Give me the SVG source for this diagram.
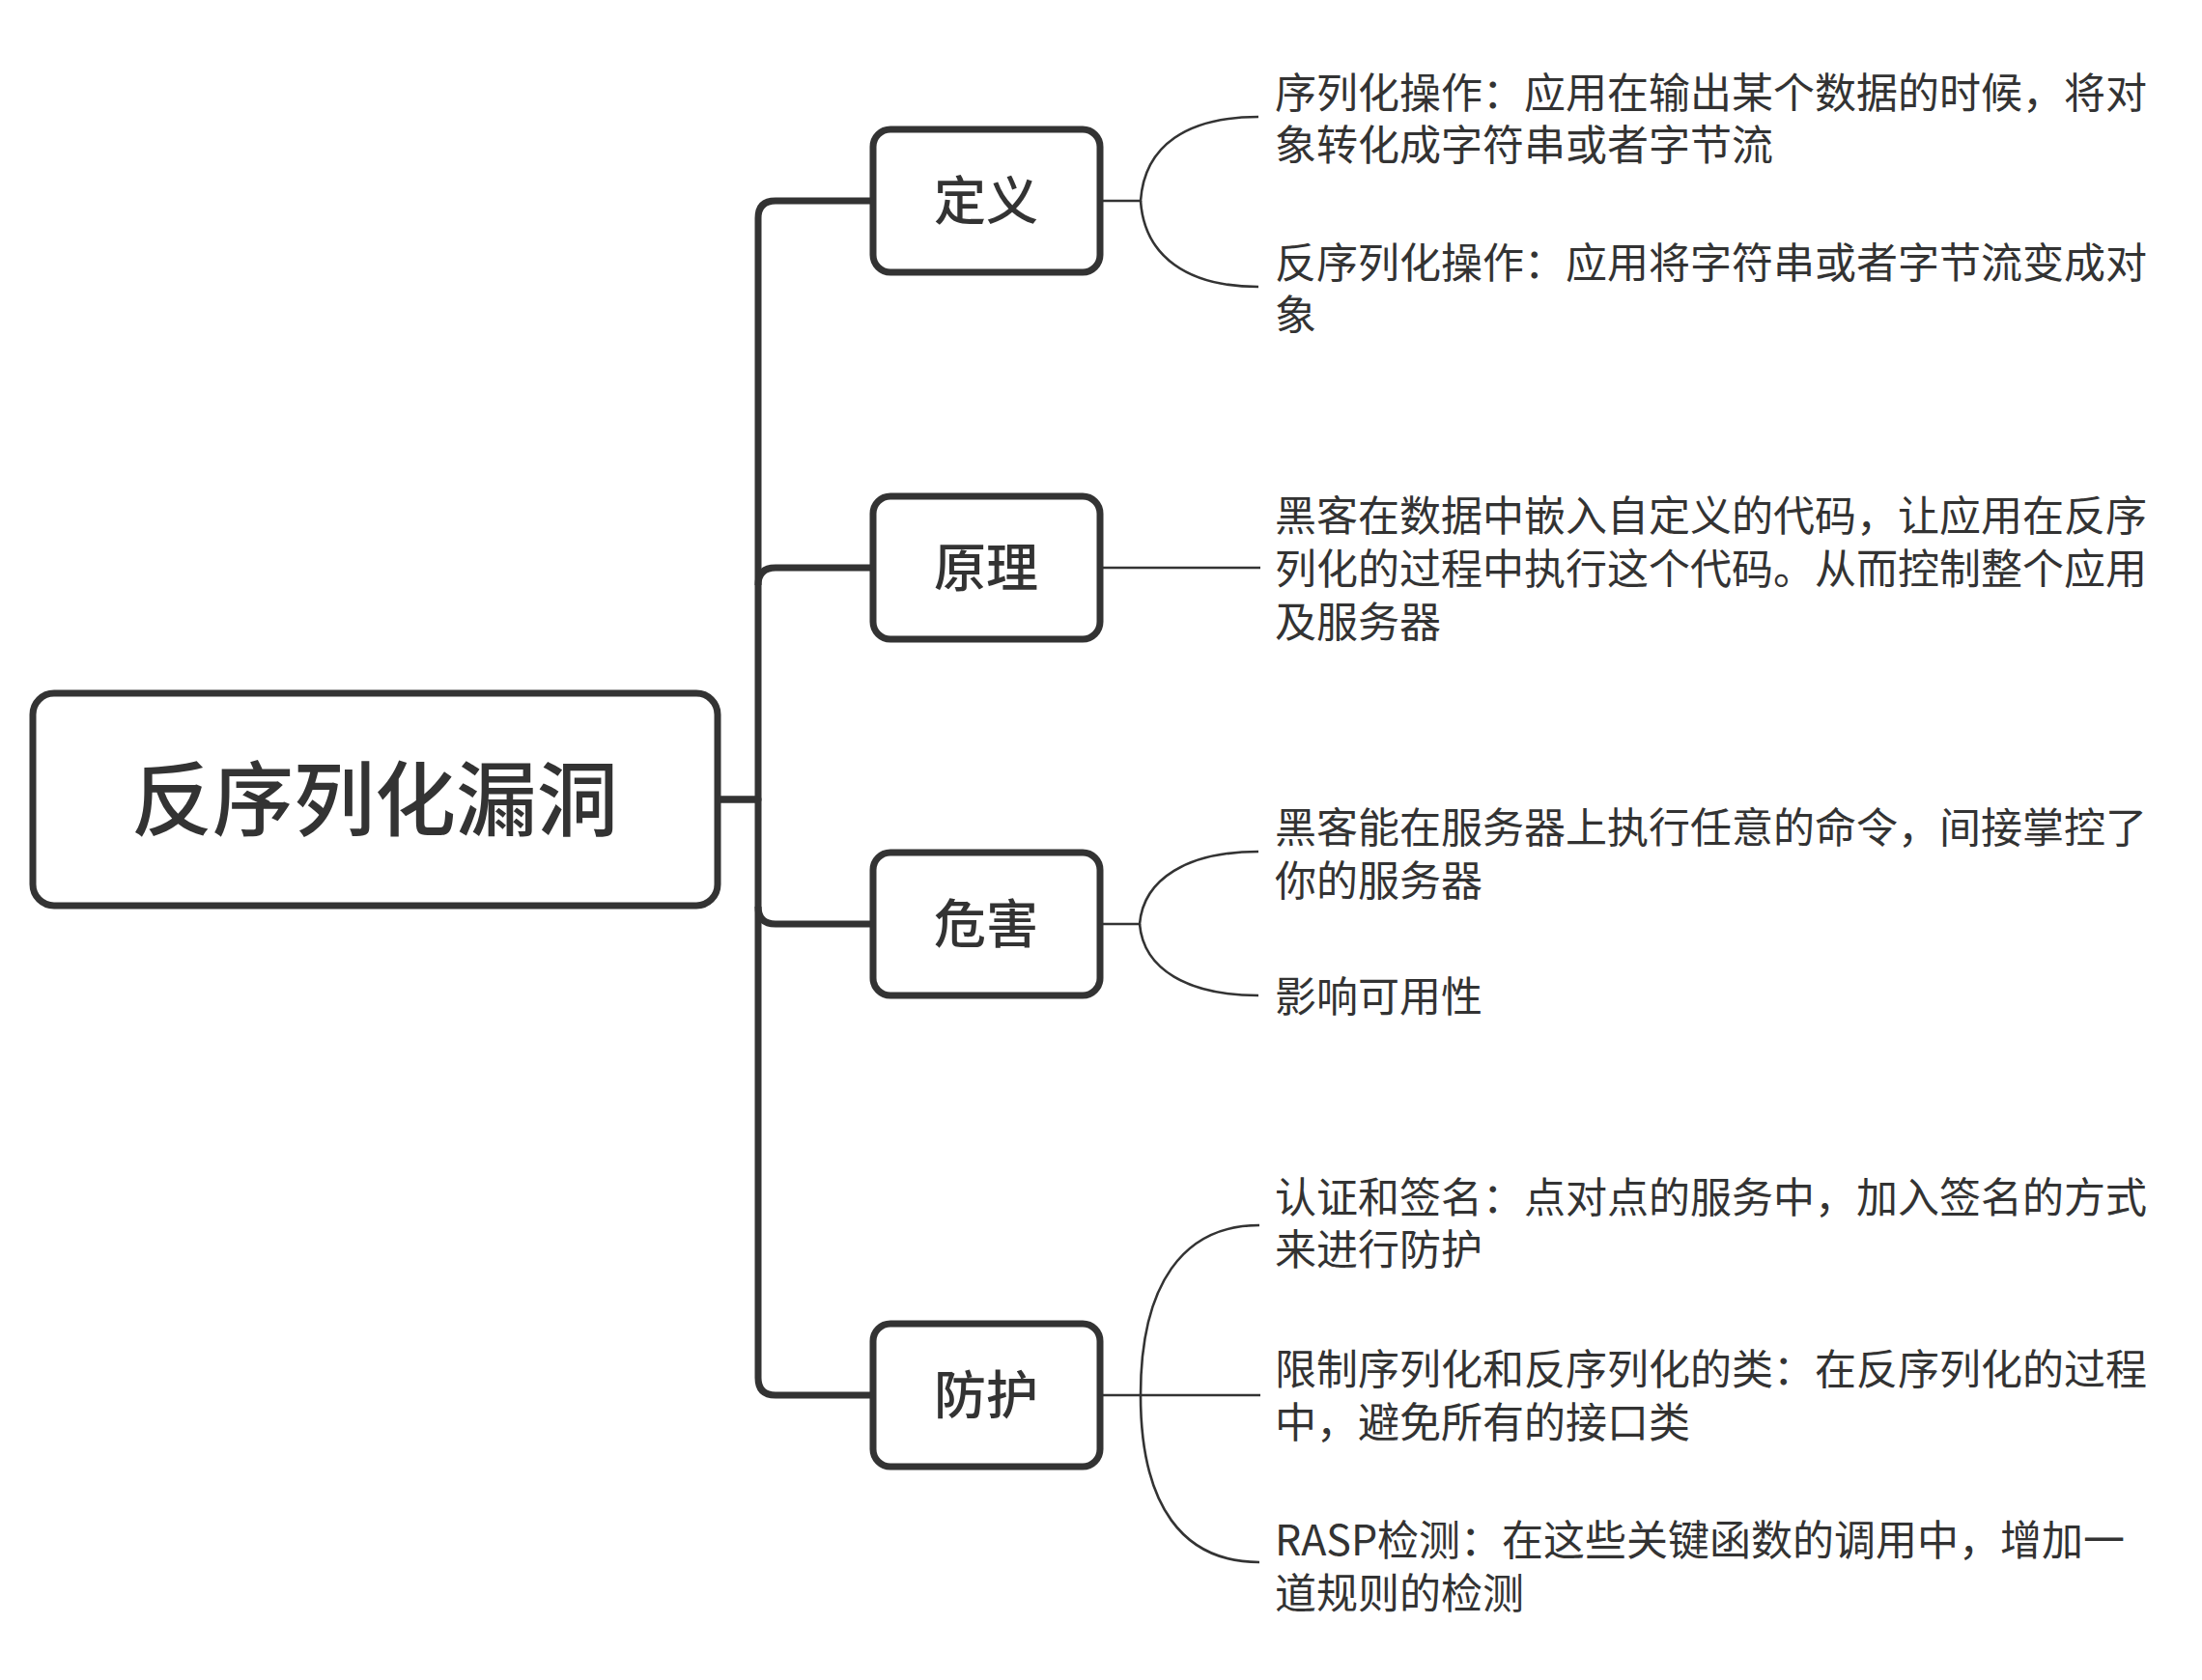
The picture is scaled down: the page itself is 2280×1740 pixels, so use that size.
<svg xmlns="http://www.w3.org/2000/svg" width="2280" height="1740" viewBox="0 0 2280 1740">
<style>
.box{fill:#fff;stroke:#333;stroke-width:7}
.trunk{fill:none;stroke:#333;stroke-width:7;stroke-linejoin:round}
.leaf{fill:none;stroke:#333;stroke-width:2.6}
text{font-family:"Noto Sans CJK SC","Noto Sans",sans-serif;fill:#333}
.root{font-size:84px;font-weight:500;text-anchor:middle}
.node{font-size:54px;font-weight:500;text-anchor:middle}
.lt{font-size:43px}
</style>
<rect width="2280" height="1740" fill="#fff"/>
<g id="connectors">
<path class="trunk" d="M745,828 H785 V226 Q785,208 803,208 H904"/>
<path class="trunk" d="M785,606 Q785,588 803,588 H904"/>
<path class="trunk" d="M745,828 H785 V1427 Q785,1445 803,1445 H904"/>
<path class="trunk" d="M785,939 Q785,957 803,957 H904"/>
<path class="leaf" d="M1139,208 H1181 C1185,150 1230,121 1303,121"/>
<path class="leaf" d="M1181,208 C1185,266 1230,297 1303,297"/>
<path class="leaf" d="M1139,588 H1305"/>
<path class="leaf" d="M1139,957 H1180 C1184,910 1230,882 1303,882"/>
<path class="leaf" d="M1180,957 C1184,1004 1230,1031 1303,1031"/>
<path class="leaf" d="M1139,1445 H1305"/>
<path class="leaf" d="M1181,1445 C1181,1330 1225,1269 1304,1269"/>
<path class="leaf" d="M1181,1445 C1181,1560 1225,1618 1304,1618"/>
</g>
<g id="root">
<rect class="box" x="34" y="718" width="709" height="220" rx="22"/>
<text class="root" x="388" y="859">反序列化漏洞</text>
</g>
<g id="n-dingyi">
<rect class="box" x="904" y="134" width="235" height="148" rx="18"/>
<text class="node" x="1021" y="228">定义</text>
</g>
<g id="n-yuanli">
<rect class="box" x="904" y="514" width="235" height="148" rx="18"/>
<text class="node" x="1021" y="608">原理</text>
</g>
<g id="n-weihai">
<rect class="box" x="904" y="883" width="235" height="148" rx="18"/>
<text class="node" x="1021" y="977">危害</text>
</g>
<g id="n-fanghu">
<rect class="box" x="904" y="1371" width="235" height="148" rx="18"/>
<text class="node" x="1021" y="1465">防护</text>
</g>
<g id="leaf-1">
<text class="lt" x="1320" y="112">序列化操作：应用在输出某个数据的时候，将对<tspan x="1320" dy="54">象转化成字符串或者字节流</tspan></text>
</g>
<g id="leaf-2">
<text class="lt" x="1320" y="288">反序列化操作：应用将字符串或者字节流变成对<tspan x="1320" dy="54">象</tspan></text>
</g>
<g id="leaf-3">
<text class="lt" x="1320" y="550">黑客在数据中嵌入自定义的代码，让应用在反序<tspan x="1320" dy="55">列化的过程中执行这个代码。从而控制整个应用</tspan><tspan x="1320" dy="55">及服务器</tspan></text>
</g>
<g id="leaf-4">
<text class="lt" x="1320" y="873">黑客能在服务器上执行任意的命令，间接掌控了<tspan x="1320" dy="55">你的服务器</tspan></text>
</g>
<g id="leaf-5">
<text class="lt" x="1320" y="1048">影响可用性</text>
</g>
<g id="leaf-6">
<text class="lt" x="1320" y="1256">认证和签名：点对点的服务中，加入签名的方式<tspan x="1320" dy="54">来进行防护</tspan></text>
</g>
<g id="leaf-7">
<text class="lt" x="1320" y="1434">限制序列化和反序列化的类：在反序列化的过程<tspan x="1320" dy="55">中，避免所有的接口类</tspan></text>
</g>
<g id="leaf-8">
<text class="lt" x="1320" y="1611">RASP检测：在这些关键函数的调用中，增加一<tspan x="1320" dy="55">道规则的检测</tspan></text>
</g>
</svg>
